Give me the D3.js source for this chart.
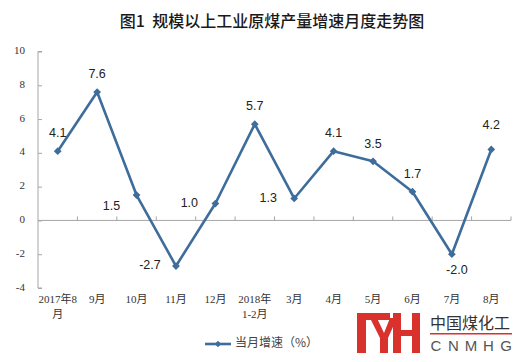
<!DOCTYPE html>
<html><head><meta charset="utf-8">
<script src="https://cdn.jsdelivr.net/npm/d3@7"></script>
<style>
html,body{margin:0;padding:0;background:#fff;}
svg{display:block;}
</style></head>
<body>
<svg id="chart" width="515" height="362"></svg>
<script>
const title = "图1  规模以上工业原煤产量增速月度走势图";
const categories = ["2017年8月","9月","10月","11月","12月","2018年1-2月","3月","4月","5月","6月","7月","8月"];
const tickLines = [["2017年8","月"],["9月"],["10月"],["11月"],["12月"],["2018年","1-2月"],["3月"],["4月"],["5月"],["6月"],["7月"],["8月"]];
const values = [4.1, 7.6, 1.5, -2.7, 1.0, 5.7, 1.3, 4.1, 3.5, 1.7, -2.0, 4.2];
const labelPlacement = ["above","above","leftBelow","left","left","above","left","above","above","above","below","aboveHigh"];
const yTicks = [-4,-2,0,2,4,6,8,10];
const seriesName = "当月增速（%）";

const svg = d3.select("#chart");
const lineColor = "#3e6d9c";
const axisColor = "#a6a6a6";

const x = d3.scaleBand().domain(categories).range([38, 511]).padding(0);
const y = d3.scaleLinear().domain([-4, 10]).range([288, 51.5]);
const cx = c => x(c) + x.bandwidth() / 2;

// title
svg.append("text").attr("x", 272).attr("y", 23)
  .attr("text-anchor", "middle").attr("dominant-baseline", "middle")
  .attr("font-family", "'Noto Sans CJK SC', sans-serif").attr("font-size", 16)
  .attr("font-weight", 500).attr("fill", "#1a1a1a").attr("xml:space","preserve")
  .text(title);

// y axis
const yAxis = d3.axisRight(y).tickValues(yTicks).tickSize(4).tickFormat("");
const yg = svg.append("g").attr("transform", "translate(38,0)").call(yAxis);
yg.select(".domain").attr("stroke", axisColor).attr("d", `M4,${y(10)}H0V${y(-4)}H4`);
yg.selectAll(".tick line").attr("stroke", axisColor);

yTicks.forEach(t => {
  svg.append("text").attr("x", 25).attr("y", y(t))
    .attr("text-anchor", "end").attr("dominant-baseline", "middle")
    .attr("font-family", "'Liberation Serif', serif").attr("font-size", 11)
    .attr("fill", "#333").text(t);
});

// zero line with category boundary ticks
const xAxis = d3.axisTop(x).tickSize(0).tickFormat("");
const xg = svg.append("g").attr("transform", `translate(0,${y(0)})`).call(xAxis);
xg.select(".domain").attr("stroke", axisColor).attr("d", `M38,0H511`);
xg.selectAll(".tick").remove();
categories.forEach(c => {
  const bx = x(c) + x.bandwidth();
  xg.append("line").attr("x1", bx).attr("x2", bx).attr("y1", 0).attr("y2", -4)
    .attr("stroke", axisColor);
});

// category labels
categories.forEach((c, i) => {
  tickLines[i].forEach((ln, j) => {
    svg.append("text").attr("x", cx(c)).attr("y", 300 + j * 15)
      .attr("text-anchor", "middle").attr("dominant-baseline", "middle")
      .attr("font-family", "'Liberation Serif', 'Noto Sans CJK SC', serif").attr("font-size", 11)
      .attr("fill", "#333").text(ln);
  });
});

// line
const line = d3.line().x((d, i) => cx(categories[i])).y(d => y(d));
svg.append("path").datum(values).attr("d", line)
  .attr("fill", "none").attr("stroke", lineColor).attr("stroke-width", 2.6)
  .attr("stroke-linejoin", "round");

svg.selectAll("path.pt").data(values).enter().append("path").attr("class","pt")
  .attr("d", d3.symbol().type(d3.symbolSquare).size(30))
  .attr("transform", (d, i) => `translate(${cx(categories[i])},${y(d)}) rotate(45)`)
  .attr("fill", lineColor);

// data labels
const offsets = {
  above: [0, -17], aboveHigh: [0, -24], below: [5, 16],
  left: [-26, 0], leftBelow: [-25, 12]
};
values.forEach((v, i) => {
  const o = offsets[labelPlacement[i]];
  svg.append("text").attr("x", cx(categories[i]) + o[0]).attr("y", y(v) + o[1])
    .attr("text-anchor", "middle").attr("dominant-baseline", "middle")
    .attr("font-family", "'Liberation Sans', Arial, sans-serif").attr("font-size", 12.5)
    .attr("fill", "#222").text(v.toFixed(1));
});

// legend
const lg = svg.append("g");
lg.append("line").attr("x1", 205).attr("x2", 231).attr("y1", 344).attr("y2", 344)
  .attr("stroke", lineColor).attr("stroke-width", 2.6);
lg.append("path").attr("d", d3.symbol().type(d3.symbolSquare).size(22)())
  .attr("transform", "translate(218,344) rotate(45)").attr("fill", lineColor);
lg.append("text").attr("x", 235).attr("y", 344).attr("dominant-baseline", "middle")
  .attr("font-family", "'Noto Sans CJK SC', sans-serif").attr("font-size", 12)
  .attr("fill", "#444").text(seriesName);

// watermark logo
const logo = svg.append("g").attr("fill", "#d9312c");
logo.append("rect").attr("x", 357).attr("y", 313).attr("width", 9).attr("height", 40);
logo.append("rect").attr("x", 357).attr("y", 313).attr("width", 33).attr("height", 7);
logo.append("path").attr("d", "M370,318 L377,318 L384,333 L390,318 L397,318 L388,338 L388,353 L380,353 L380,338 Z");
logo.append("rect").attr("x", 393).attr("y", 313).attr("width", 8).attr("height", 40);
logo.append("rect").attr("x", 412).attr("y", 313).attr("width", 8).attr("height", 40);
logo.append("rect").attr("x", 393).attr("y", 330).attr("width", 27).attr("height", 6);
svg.append("text").attr("x", 430).attr("y", 325).attr("dominant-baseline", "middle")
  .attr("font-family", "'Noto Sans CJK SC', sans-serif").attr("font-size", 16)
  .attr("fill", "#333").text("中国煤化工");
svg.append("rect").attr("x", 430).attr("y", 333).attr("width", 82).attr("height", 1.5).attr("fill", "#d9312c");
const brand = ["C","N","M","H","G"];
brand.forEach((ch, i) => {
  svg.append("text").attr("x", 436 + i * 17.5).attr("y", 347)
    .attr("text-anchor", "middle").attr("dominant-baseline", "middle")
    .attr("font-family", "'Liberation Sans', sans-serif").attr("font-size", 15)
    .attr("fill", "#555").text(ch);
});
</script>
</body></html>
